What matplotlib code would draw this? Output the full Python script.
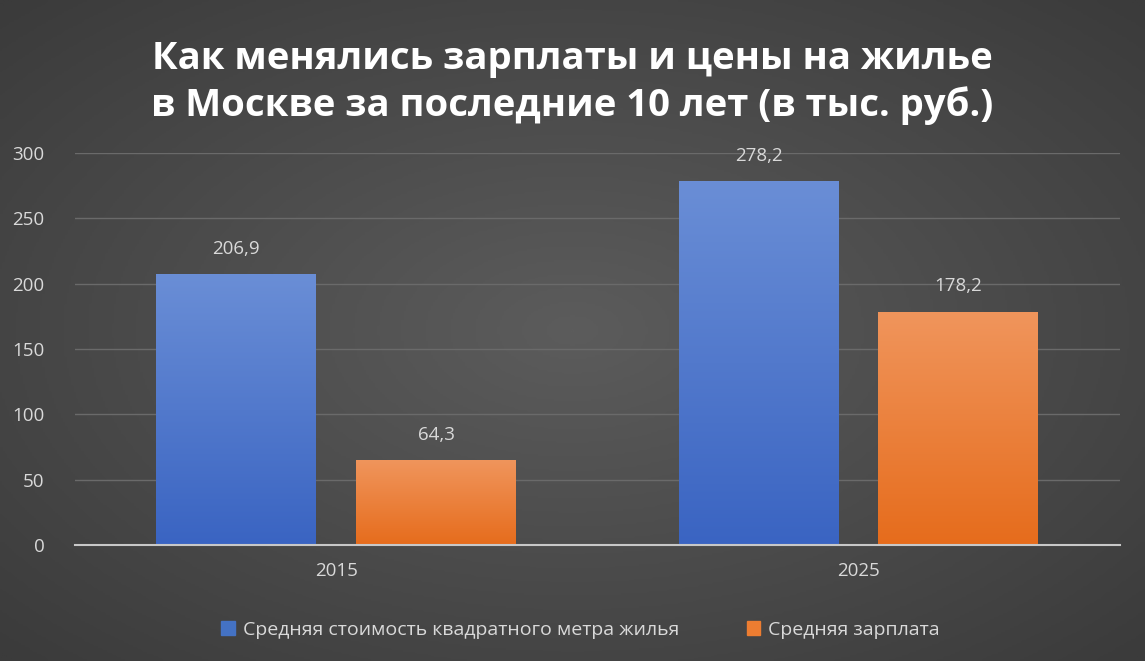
import numpy as np
import matplotlib.pyplot as plt
from matplotlib.colors import LinearSegmentedColormap

years = ["2015", "2025"]
price_sqm = [206.9, 278.2]
salary = [64.3, 178.2]
series_names = ["Средняя стоимость квадратного метра жилья", "Средняя зарплата"]
title = "Как менялись зарплаты и цены на жилье\nв Москве за последние 10 лет (в тыс. руб.)"

plt.rcParams["font.family"] = "Open Sans"

fig = plt.figure(figsize=(11.45, 6.61), dpi=100)

# radial background
bg = fig.add_axes([0, 0, 1, 1])
yy, xx = np.mgrid[-1:1:300j, -1:1:500j]
r = np.sqrt(xx ** 2 + yy ** 2)
bg_cmap = LinearSegmentedColormap.from_list("bg", ["#5c5c5c", "#3b3b3b"])
bg.imshow(r, cmap=bg_cmap, aspect="auto", extent=[0, 1, 0, 1], vmin=0, vmax=1.4)
bg.axis("off")

ax = fig.add_axes([0.0655, 0.1755, 0.9125, 0.593])
ax.set_facecolor("none")

x = np.arange(len(years))
w = 0.306
off = 0.191
blue = LinearSegmentedColormap.from_list("b", ["#3a64c2", "#6a8ed6"])
orange = LinearSegmentedColormap.from_list("o", ["#e66c1c", "#f0955c"])
grad = np.linspace(0, 1, 256).reshape(-1, 1)

for vals, dx, cm in [(price_sqm, -off, blue), (salary, off, orange)]:
    for xi, v in zip(x, vals):
        ax.imshow(grad, cmap=cm, origin="lower", aspect="auto",
                  extent=[xi + dx - w / 2, xi + dx + w / 2, 0, v], zorder=2)
        ax.text(xi + dx, v + 13, f"{v:.1f}".replace(".", ","), ha="center",
                va="bottom", color="#d9d9d9", fontsize=13.5)

ax.set_xlim(-0.5, 1.5)
ax.set_ylim(0, 300)
ax.set_yticks(range(0, 301, 50))
ax.set_xticks(x)
ax.set_xticklabels(years)
ax.grid(axis="y", color="#6a6a6a", linewidth=1, zorder=0)
ax.set_axisbelow(True)
for s in ["top", "right", "left"]:
    ax.spines[s].set_visible(False)
ax.spines["bottom"].set_color("#c8c8c8")
ax.spines["bottom"].set_linewidth(1.5)
ax.spines["bottom"].set_zorder(3)
ax.tick_params(colors="#d9d9d9", labelsize=13.5, length=0, pad=12)
ax.tick_params(axis="y", pad=22)
for lbl in ax.get_yticklabels():
    lbl.set_horizontalalignment("right")

fig.text(0.5, 0.875, title, ha="center", va="center", color="white",
         fontsize=27.5, fontweight="bold", linespacing=1.3)

handles = [plt.Rectangle((0, 0), 1, 1, color="#4472c4"),
           plt.Rectangle((0, 0), 1, 1, color="#ed7d31")]
fig.legend(handles, series_names, loc="center", bbox_to_anchor=(0.507, 0.047),
           ncol=2, frameon=False, fontsize=14, labelcolor="#d9d9d9",
           handlelength=0.7, handleheight=0.7, columnspacing=3.5, handletextpad=0.4)

fig.savefig("out.png", dpi=100)
